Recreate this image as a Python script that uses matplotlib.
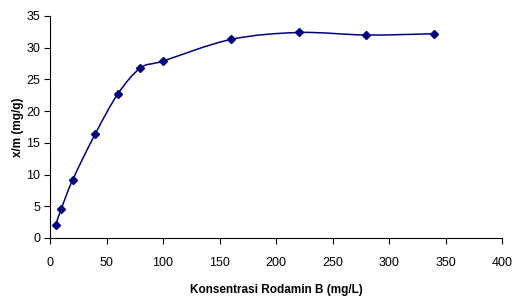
import numpy as np
import matplotlib
matplotlib.use("Agg")
import matplotlib.pyplot as plt
from matplotlib.path import Path
from matplotlib.patches import PathPatch

# data
konsentrasi = [5, 10, 20, 40, 60, 80, 100, 160, 220, 280, 340]
xm = [2.1, 4.6, 9.15, 16.4, 22.7, 26.8, 27.9, 31.3, 32.4, 32.0, 32.2]

x_ticks = [0, 50, 100, 150, 200, 250, 300, 350, 400]
y_ticks = [0, 5, 10, 15, 20, 25, 30, 35]

warna = "#000080"

plt.rcParams["font.family"] = ["Liberation Sans", "DejaVu Sans"]

fig = plt.figure(figsize=(5.13, 3.02), dpi=100)
ax = fig.add_axes([50 / 513, 64 / 302, 452 / 513, 222 / 302])

# garis halus ala Excel (Bezier Catmull-Rom)
px = np.array(konsentrasi, dtype=float)
py = np.array(xm, dtype=float)
verts = [(px[0], py[0])]
codes = [Path.MOVETO]
n = len(px)
for i in range(n - 1):
    i0 = max(i - 1, 0)
    i3 = min(i + 2, n - 1)
    c1 = (px[i] + (px[i + 1] - px[i0]) / 6, py[i] + (py[i + 1] - py[i0]) / 6)
    c2 = (px[i + 1] - (px[i3] - px[i]) / 6, py[i + 1] - (py[i3] - py[i]) / 6)
    verts += [c1, c2, (px[i + 1], py[i + 1])]
    codes += [Path.CURVE4] * 3
ax.add_patch(PathPatch(Path(verts, codes), fill=False, edgecolor=warna, lw=1.1))

ax.plot(konsentrasi, xm, linestyle="none", marker="D", markersize=4.5,
        color=warna, markeredgecolor=warna)

ax.set_xlim(0, 400)
ax.set_ylim(0, 35)
ax.set_xticks(x_ticks)
ax.set_yticks(y_ticks)
for s in ["top", "right"]:
    ax.spines[s].set_visible(False)
ax.tick_params(direction="out", length=4, width=0.8, labelsize=9)
ax.tick_params(axis="x", pad=10)
ax.tick_params(axis="y", pad=3)
ax.set_xlabel("Konsentrasi Rodamin B (mg/L)", fontsize=8.5, fontweight="bold")
ax.set_ylabel("x/m (mg/g)", fontsize=8.5, fontweight="bold")
ax.xaxis.set_label_coords(0.5, -0.207)
ax.yaxis.set_label_coords(-0.058, 0.5)

fig.savefig("out.png", dpi=100)
